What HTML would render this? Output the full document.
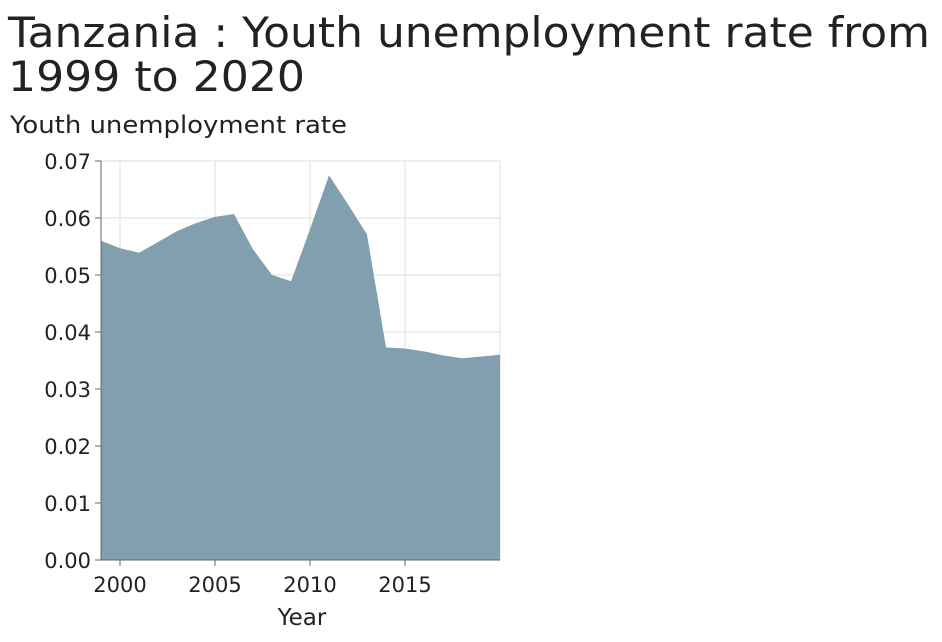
<!DOCTYPE html>
<html><head><meta charset="utf-8"><style>
body{margin:0;background:#fff;font-family:"DejaVu Sans","Liberation Sans",sans-serif;}
svg{display:block}
</style></head><body>
<svg width="942" height="642" id="c" font-family="DejaVu Sans, Liberation Sans, sans-serif">
<text x="8" y="47" font-size="42" fill="#222" textLength="922" lengthAdjust="spacingAndGlyphs">Tanzania : Youth unemployment rate from</text>
<text x="8" y="91" font-size="42" fill="#222" textLength="297" lengthAdjust="spacingAndGlyphs">1999 to 2020</text>
<text x="10" y="133" font-size="24" fill="#222" textLength="337" lengthAdjust="spacingAndGlyphs">Youth unemployment rate</text>
<text x="302" y="625" font-size="23" fill="#222" text-anchor="middle">Year</text>
<g id="grid"></g><g id="area"></g><g id="axes"></g>
</svg>
<script>
const years=[1999,2000,2001,2002,2003,2004,2005,2006,2007,2008,2009,2010,2011,2012,2013,2014,2015,2016,2017,2018,2019,2020];
const rates=[0.0560,0.0547,0.0539,0.0558,0.0577,0.0591,0.0602,0.0607,0.0545,0.0500,0.0489,0.0580,0.0675,0.0624,0.0571,0.0373,0.0371,0.0366,0.0359,0.0354,0.0357,0.0360];
const yTicks=[0,0.01,0.02,0.03,0.04,0.05,0.06,0.07];
const xTicks=[2000,2005,2010,2015];
const X0=101,X1=500,Y0=560,Y1=161;
const xs=v=>X0+(v-1999)/(2020-1999)*(X1-X0);
const ys=v=>Y0-v/0.07*(Y0-Y1);
const NS="http://www.w3.org/2000/svg";
function mk(t,a,p){const e=document.createElementNS(NS,t);for(const k in a)e.setAttribute(k,a[k]);p.appendChild(e);return e;}
const g=document.getElementById('grid'),ar=document.getElementById('area'),ax=document.getElementById('axes');
yTicks.forEach(v=>{
 const l=mk('line',{x1:X0,x2:X1,y1:ys(v),y2:ys(v),stroke:'#ddd'},g);
 
 
 const t=mk('text',{x:91,y:ys(v)+8,'font-size':21,'text-anchor':'end',fill:'#222'},ax);
 t.textContent=v.toFixed(2);
 
 
 const tk=mk('line',{x1:95,x2:X0,y1:ys(v),y2:ys(v),stroke:'#666'},ax);
 
 
});
xTicks.concat([2020]).forEach(v=>{
 const l=mk('line',{x1:xs(v),x2:xs(v),y1:Y1,y2:Y0,stroke:'#ddd'},g);
 
 
});
xTicks.forEach(v=>{
 const t=mk('text',{x:xs(v),y:592,'font-size':21,'text-anchor':'middle',fill:'#222'},ax);
 t.textContent=v;
 
 
 const tk=mk('line',{x1:xs(v),x2:xs(v),y1:Y0,y2:Y0+6,stroke:'#666'},ax);
 
 
});
let d='M'+xs(years[0])+','+Y0;
years.forEach((y,i)=>{d+=' L'+xs(y)+','+ys(rates[i]);});
d+=' L'+xs(years[years.length-1])+','+Y0+' Z';
const p=mk('path',{d:d,fill:'#829fb0'},ar);


const a1=mk('line',{x1:X0,x2:X0,y1:Y1,y2:Y0,stroke:'#666'},ax);


const a2=mk('line',{x1:X0,x2:X1,y1:Y0,y2:Y0,stroke:'#666'},ax);


</script>
</body></html>
